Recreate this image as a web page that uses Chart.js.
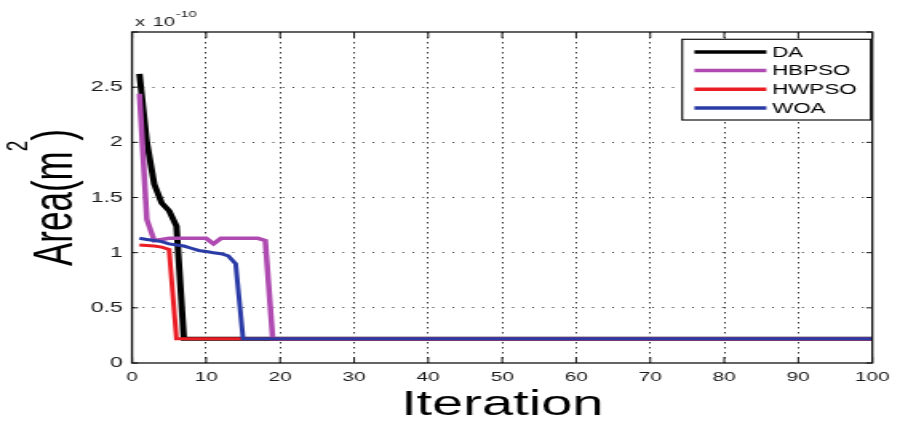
<!DOCTYPE html>
<html>
<head>
<meta charset="utf-8">
<script src="https://cdn.jsdelivr.net/npm/chart.js@4.4.1/dist/chart.umd.min.js"></script>
<style>
  html, body { margin: 0; padding: 0; background: #fff; overflow: hidden; }
  /* the source figure is stretched sideways, so draw narrow and stretch the canvas */
  #line-chart { display: block; transform: scaleX(1.5986); transform-origin: 0 0; }
</style>
</head>
<body>
<canvas id="line-chart" width="563" height="425"></canvas>
<script>
// area values are in units of 1e-10 m^2 (see the "x 10^-10" header)
var seriesNames = ['DA', 'HBPSO', 'HWPSO', 'WOA'];
var seriesColors = ['#000000', '#AE4AB0', '#EA1D25', '#2B3BA6'];

var daIter = [1, 2, 3, 4, 5, 6, 7, 100];
var daArea = [2.62, 2.0, 1.62, 1.45, 1.38, 1.24, 0.22, 0.22];

var hbpsoIter = [1, 2, 3, 4, 5, 6, 7, 8, 9, 10, 11, 12, 13, 14, 15, 16, 17, 18, 19, 100];
var hbpsoArea = [2.44, 1.3, 1.11, 1.12, 1.13, 1.13, 1.13, 1.13, 1.13, 1.13, 1.08, 1.13, 1.13, 1.13, 1.13, 1.13, 1.13, 1.11, 0.22, 0.22];

var hwpsoIter = [1, 2, 3, 4, 5, 6, 100];
var hwpsoArea = [1.07, 1.065, 1.06, 1.05, 1.03, 0.22, 0.22];

var woaIter = [1, 2, 3, 4, 5, 6, 7, 8, 9, 10, 11, 12, 13, 14, 15, 100];
var woaArea = [1.13, 1.12, 1.11, 1.10, 1.08, 1.07, 1.06, 1.04, 1.02, 1.01, 1.00, 0.99, 0.97, 0.90, 0.22, 0.22];

var xTicks = [0, 10, 20, 30, 40, 50, 60, 70, 80, 90, 100];
var yTicks = [0, 0.5, 1, 1.5, 2, 2.5, 3];

var FONT = '"Liberation Sans", Arial, sans-serif';

function points(xs, ys) {
  var out = [];
  for (var i = 0; i < xs.length; i++) out.push({x: xs[i], y: ys[i]});
  return out;
}

var allIter = [daIter, hbpsoIter, hwpsoIter, woaIter];
var allArea = [daArea, hbpsoArea, hwpsoArea, woaArea];
var widths = [4, 3.5, 3, 3];

var mydata = {type: 'line', data: {datasets: []}, options: {}};
for (var i = 0; i < seriesNames.length; i++) {
  mydata.data.datasets.push({
    label: seriesNames[i],
    data: points(allIter[i], allArea[i]),
    borderColor: seriesColors[i],
    backgroundColor: seriesColors[i],
    borderWidth: widths[i],
    pointRadius: 0,
    fill: false,
    tension: 0,
    order: seriesNames.length - i   // later series on top, like matlab
  });
}

// frame, inward tick marks, exponent header, y label and legend box
var axesDecor = {
  id: 'axesDecor',
  afterDatasetsDraw: function(chart) {
    var ctx = chart.ctx, a = chart.chartArea;
    var xs = chart.scales.x, ys = chart.scales.y;
    ctx.save();
    ctx.strokeStyle = '#111';
    ctx.lineWidth = 1;
    ctx.beginPath();
    xs.ticks.forEach(function(t) {
      var px = xs.getPixelForValue(t.value);
      ctx.moveTo(px, a.bottom); ctx.lineTo(px, a.bottom - 6);
      ctx.moveTo(px, a.top); ctx.lineTo(px, a.top + 6);
    });
    ys.ticks.forEach(function(t) {
      var py = ys.getPixelForValue(t.value);
      ctx.moveTo(a.left, py); ctx.lineTo(a.left + 3.75, py);
      ctx.moveTo(a.right, py); ctx.lineTo(a.right - 3.75, py);
    });
    ctx.stroke();
    ctx.lineWidth = 1.3;
    ctx.strokeRect(a.left, a.top, a.right - a.left, a.bottom - a.top);

    // x 10^-10
    ctx.fillStyle = '#222';
    ctx.textBaseline = 'alphabetic';
    ctx.font = '12.5px ' + FONT;
    ctx.fillText('x', a.left + 2, 26);
    ctx.fillText('10', a.left + 13, 26);
    ctx.font = '9px ' + FONT;
    ctx.fillText('-10', a.left + 27.5, 17);

    // y axis label with a matlab style superscript
    var big = '35px ' + FONT, small = '19px ' + FONT;
    ctx.font = big;
    var w1 = ctx.measureText('Area(m').width;
    var w3 = ctx.measureText(')').width;
    ctx.font = small;
    var w2 = ctx.measureText('2').width;
    var total = w1 + w2 + w3;
    ctx.save();
    ctx.translate(45, (a.top + a.bottom) / 2);
    ctx.rotate(-Math.PI / 2);
    ctx.fillStyle = '#000';
    ctx.textAlign = 'left';
    ctx.font = big;
    ctx.fillText('Area(m', -total / 2, 0);
    ctx.font = small;
    ctx.fillText('2', -total / 2 + w1, -28);
    ctx.font = big;
    ctx.fillText(')', -total / 2 + w1 + w2, 0);
    ctx.restore();

    // legend
    var bx = 426.7, by = 39.3, bw = 118, bh = 80.7;
    ctx.fillStyle = '#fff';
    ctx.fillRect(bx, by, bw, bh);
    ctx.lineWidth = 1.2;
    ctx.strokeStyle = '#111';
    ctx.strokeRect(bx, by, bw, bh);
    var rows = [52, 70.5, 89.3, 108];
    ctx.font = '14px ' + FONT;
    ctx.textBaseline = 'middle';
    chart.data.datasets.forEach(function(ds, k) {
      ctx.strokeStyle = ds.borderColor;
      ctx.lineWidth = 3.5;
      ctx.beginPath();
      ctx.moveTo(434.4, rows[k]); ctx.lineTo(479.4, rows[k]);
      ctx.stroke();
      ctx.fillStyle = '#000';
      ctx.fillText(ds.label, 483, rows[k] + 1);
    });
    ctx.restore();
  }
};

function hideEdge(lo, hi) {
  return function(c) {
    if (c.tick && (c.tick.value === lo || c.tick.value === hi)) return 'rgba(0,0,0,0)';
    return '#333';
  };
}

mydata.options = {
  responsive: false,
  devicePixelRatio: 1,
  animation: false,
  layout: {padding: {left: 11, right: 12.5, top: 32, bottom: 0}},
  plugins: {legend: {display: false}, tooltip: {enabled: false}},
  scales: {
    x: {
      type: 'linear',
      min: 0, max: 100,
      afterFit: function(s) { s.height = 62; },
      afterBuildTicks: function(s) { s.ticks = xTicks.map(function(v) { return {value: v}; }); },
      grid: {color: hideEdge(0, 100), lineWidth: 1, drawTicks: false},
      border: {display: false, dash: [1.5, 3.5]},
      ticks: {autoSkip: false, maxRotation: 0, padding: 6.5, color: '#1a1a1a', font: {family: FONT, size: 13}},
      title: {display: true, text: 'Iteration', color: '#000', padding: 0, font: {family: FONT, size: 35, lineHeight: 1.1}}
    },
    y: {
      min: 0, max: 3,
      afterFit: function(s) { s.width = 71.6; },
      afterBuildTicks: function(s) { s.ticks = yTicks.map(function(v) { return {value: v}; }); },
      grid: {color: hideEdge(0, 3), lineWidth: 1, drawTicks: false},
      border: {display: false, dash: [1, 5.25]},
      ticks: {
        padding: 5.7, color: '#1a1a1a', font: {family: FONT, size: 14.5},
        callback: function(v) { return v === 3 ? '' : String(v); }
      },
      title: {display: false}
    }
  }
};
mydata.plugins = [axesDecor];

new Chart(document.getElementById('line-chart'), mydata);
</script>
</body>
</html>
